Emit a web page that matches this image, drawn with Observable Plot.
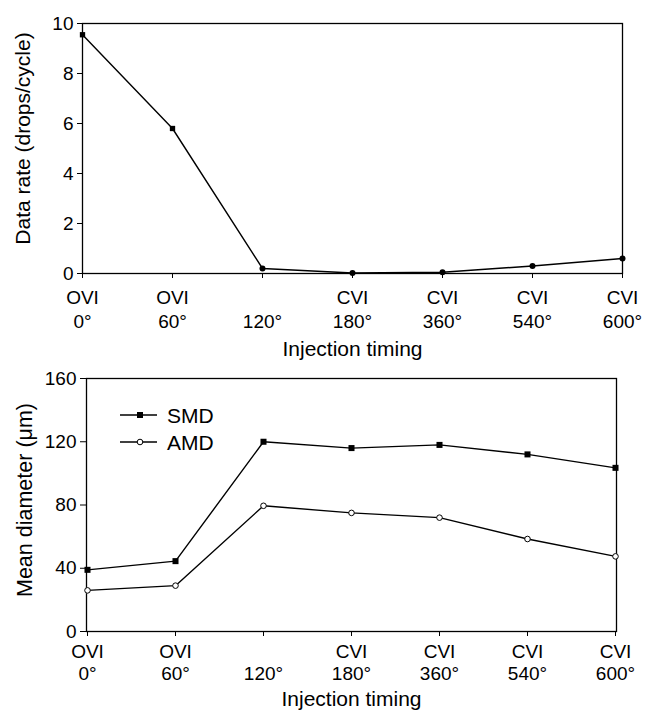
<!DOCTYPE html>
<html>
<head>
<meta charset="utf-8">
<script src="https://cdn.jsdelivr.net/npm/d3@7"></script>
<script src="https://cdn.jsdelivr.net/npm/@observablehq/plot@0.6"></script>
<style>
  html, body { margin: 0; padding: 0; background: #fff; }
  #wrap { width: 645px; }
  .panel { position: relative; width: 645px; }
  .panel svg { display: block; }
  .legend { position: absolute; left: 110px; top: 40px; }
</style>
</head>
<body>
<div id="wrap">
  <div class="panel" id="top"></div>
  <div class="panel" id="bottom"></div>
</div>
<script>
// ---- data ----
const categories = ["0°", "60°", "120°", "180°", "360°", "540°", "600°"];
const regimes    = ["OVI", "OVI", "", "CVI", "CVI", "CVI", "CVI"];
const dataRate   = [9.55, 5.8, 0.2, 0.02, 0.05, 0.3, 0.6];
const smd        = [39, 44.5, 120, 116, 118, 112, 103.5];
const amd        = [26, 29, 79.5, 75, 72, 58.5, 47.5];
const rateTicks  = [0, 2, 4, 6, 8, 10];
const diamTicks  = [0, 40, 80, 120, 160];
const seriesNames = ["SMD", "AMD"];
const xTitle = "Injection timing";
const rateTitle = "Data rate (drops/cycle)";
const diamTitle = "Mean diameter (μm)";

const font = "'Liberation Sans', Arial, Helvetica, sans-serif";
const style = {fontFamily: font, fontSize: "19px", color: "black", background: "white"};
const fmtX = d => regimes[categories.indexOf(d)] + "\n" + d;

const rateRows = categories.map((c, i) => ({cat: c, v: dataRate[i], reg: regimes[i]}));
const diamRows = categories.flatMap((c, i) => [
  {cat: c, v: smd[i], s: "SMD"},
  {cat: c, v: amd[i], s: "AMD"}
]);

const xAxis = (pad, lh) => Plot.axisX({
  ticks: categories, tickSize: 5, tickPadding: pad, tickFormat: fmtX, lineHeight: lh, label: null
});

const topPlot = Plot.plot({
  width: 645, height: 362,
  marginLeft: 82, marginRight: 23, marginTop: 23, marginBottom: 89,
  style,
  x: {type: "point", domain: categories, padding: 0},
  y: {domain: [0, 10]},
  marks: [
    Plot.frame({stroke: "black", strokeWidth: 1.3}),
    xAxis(9, 1.25),
    Plot.axisY({ticks: rateTicks, tickSize: 5, tickPadding: 4, label: null}),
    Plot.text([xTitle], {frameAnchor: "bottom", lineAnchor: "bottom", textAnchor: "middle", dy: 82, fontSize: 21}),
    Plot.text([rateTitle], {frameAnchor: "left", rotate: -90, textAnchor: "middle", lineAnchor: "top", dx: -67, dy: -10, fontSize: 21}),
    Plot.line(rateRows, {x: "cat", y: "v", stroke: "black", strokeWidth: 1.4}),
    Plot.dot(rateRows, {x: "cat", y: "v", r: 3, fill: "black",
      symbol: d => d.reg === "OVI" ? "square" : "circle"})
  ]
});
document.getElementById("top").append(topPlot);

const bottomPlot = Plot.plot({
  width: 645, height: 352,
  marginLeft: 86, marginRight: 29, marginTop: 16, marginBottom: 83,
  style,
  x: {type: "point", domain: categories, padding: 0},
  y: {domain: [0, 160]},
  marks: [
    Plot.frame({stroke: "black", strokeWidth: 1.3}),
    xAxis(5, 1.2),
    Plot.axisY({ticks: diamTicks, tickSize: 6, tickPadding: 4, label: null}),
    Plot.text([xTitle], {frameAnchor: "bottom", lineAnchor: "bottom", textAnchor: "middle", dy: 74, fontSize: 21}),
    Plot.text([diamTitle], {frameAnchor: "left", rotate: -90, textAnchor: "middle", lineAnchor: "top", dx: -70, dy: -5, fontSize: 21.5}),
    Plot.line(diamRows, {x: "cat", y: "v", z: "s", stroke: "black", strokeWidth: 1.4}),
    Plot.dot(diamRows.filter(d => d.s === "SMD"), {x: "cat", y: "v", symbol: "square", r: 3.4, fill: "black"}),
    Plot.dot(diamRows.filter(d => d.s === "AMD"), {x: "cat", y: "v", r: 2.8, fill: "white", stroke: "black", strokeWidth: 1})
  ]
});
document.getElementById("bottom").append(bottomPlot);

// legend
const leg = d3.select("#bottom").append("svg").attr("class", "legend")
  .attr("width", 140).attr("height", 60)
  .style("font-family", font).style("font-size", "21px");
seriesNames.forEach((name, i) => {
  const g = leg.append("g").attr("transform", `translate(0,${13 + i * 27})`);
  g.append("line").attr("x1", 10).attr("x2", 47).attr("stroke", "black").attr("stroke-width", 1.4);
  if (name === "SMD") g.append("rect").attr("x", 27).attr("y", -3).attr("width", 6).attr("height", 6).attr("fill", "black");
  else g.append("circle").attr("cx", 30).attr("r", 2.8).attr("fill", "white").attr("stroke", "black");
  g.append("text").attr("x", 57).attr("y", 7.5).text(name);
});
</script>
</body>
</html>
